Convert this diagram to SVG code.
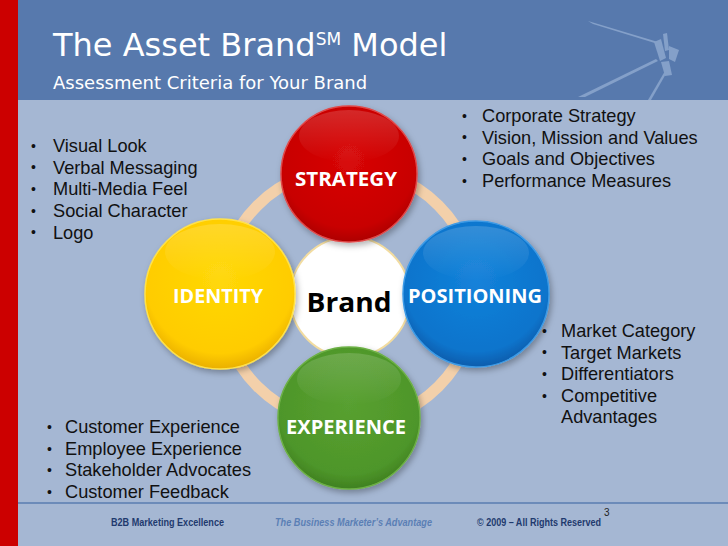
<svg xmlns="http://www.w3.org/2000/svg" width="728" height="546" viewBox="0 0 728 546">
<defs>
<style>
.bul{font-family:"Liberation Sans",Arial,sans-serif;font-size:18.2px;fill:#111}
.dot{font-family:"Liberation Sans",Arial,sans-serif;font-size:14px;fill:#111}
.lbl{font-family:"Open Sans","Noto Sans",sans-serif;font-weight:bold;font-size:19.5px;fill:#fff;text-anchor:middle}
.foot{font-family:"Liberation Sans",Arial,sans-serif;font-size:10px;font-weight:bold;fill:#1f3a6e}
</style>
<radialGradient id="gR" cx="50%" cy="40%" r="62%"><stop offset="0" stop-color="#d80808"/><stop offset="0.8" stop-color="#c80000"/><stop offset="1" stop-color="#a80000"/></radialGradient>
<radialGradient id="gY" cx="50%" cy="40%" r="62%"><stop offset="0" stop-color="#ffd808"/><stop offset="0.8" stop-color="#ffcc00"/><stop offset="1" stop-color="#e6aa00"/></radialGradient>
<radialGradient id="gB" cx="50%" cy="40%" r="62%"><stop offset="0" stop-color="#1482da"/><stop offset="0.8" stop-color="#0a74cc"/><stop offset="1" stop-color="#0858a6"/></radialGradient>
<radialGradient id="gG" cx="50%" cy="40%" r="62%"><stop offset="0" stop-color="#58a030"/><stop offset="0.8" stop-color="#4e962a"/><stop offset="1" stop-color="#3c7c1e"/></radialGradient>
<linearGradient id="gloss" x1="0" y1="0" x2="0" y2="1"><stop offset="0" stop-color="#fff" stop-opacity="0.16"/><stop offset="1" stop-color="#fff" stop-opacity="0"/></linearGradient>
<filter id="sh" x="-20%" y="-20%" width="140%" height="140%"><feDropShadow dx="2" dy="3" stdDeviation="3" flood-color="#000" flood-opacity="0.3"/></filter>
</defs>
<!-- background -->
<rect x="0" y="0" width="728" height="546" fill="#a5b7d3"/>
<rect x="0" y="0" width="728" height="100" fill="#5779ad"/>
<rect x="0" y="0" width="18" height="546" fill="#cc0000"/>
<line x1="18" y1="503" x2="728" y2="503" stroke="#5a7cb0" stroke-width="1.5"/>
<!-- windmill decoration -->
<g fill="#a9c0e0" opacity="0.55">
<polygon points="588,21 593,24 658,44 658,42"/>
<polygon points="578,97 585,97 658,61 656,59"/>
<polygon points="648,100 651,100 667,72 665,71"/>
<polygon points="654,42 661,39 666,58 660,61"/>
<polygon points="663,34 667,33 669,50 665,51"/>
<polygon points="669,46 679,50 675,62 669,59"/>
<polygon points="661,62 669,61 672,75 665,76"/>
</g>
<!-- title -->
<g id="title" fill="#fff" font-family="'DejaVu Sans',Verdana,sans-serif">
<text x="53" y="56" font-size="32">The Asset Brand<tspan font-size="17" dy="-11">SM</tspan><tspan font-size="32" dy="11"> Model</tspan></text>
<text x="53" y="89" font-size="18">Assessment Criteria for Your Brand</text>
</g>
<!-- connectors: ring -->
<g id="connectors">
<circle cx="348" cy="296" r="128" fill="none" stroke="#f3d0aa" stroke-width="11"/>
</g>
<!-- nodes -->
<g id="brand">
<circle cx="350" cy="297" r="60" fill="#fff" stroke="#f2dca0" stroke-width="2"/>
<text x="349" y="312" font-family="'Open Sans','Noto Sans',sans-serif" font-weight="bold" font-size="26" text-anchor="middle" fill="#000" textLength="85" lengthAdjust="spacingAndGlyphs">Brand</text>
</g>
<g id="strategy">
<circle cx="349" cy="174" r="68" fill="url(#gR)" stroke="#e04848" stroke-width="1.5" filter="url(#sh)"/>
<ellipse cx="349" cy="136" rx="50" ry="26" fill="url(#gloss)"/>
<text class="lbl" x="346" y="186" textLength="102" lengthAdjust="spacingAndGlyphs">STRATEGY</text>
</g>
<g id="identity">
<circle cx="220" cy="294" r="75" fill="url(#gY)" stroke="#ffe24a" stroke-width="1.5" filter="url(#sh)"/>
<ellipse cx="220" cy="252" rx="55" ry="28" fill="url(#gloss)"/>
<text class="lbl" x="218" y="303" textLength="90" lengthAdjust="spacingAndGlyphs">IDENTITY</text>
</g>
<g id="positioning">
<circle cx="476" cy="294" r="73" fill="url(#gB)" stroke="#3c9ae6" stroke-width="1.5" filter="url(#sh)"/>
<ellipse cx="476" cy="253" rx="53" ry="27" fill="url(#gloss)"/>
<text class="lbl" x="475" y="303" textLength="134" lengthAdjust="spacingAndGlyphs">POSITIONING</text>
</g>
<g id="experience">
<circle cx="349" cy="418" r="71" fill="url(#gG)" stroke="#6cb044" stroke-width="1.5" filter="url(#sh)"/>
<ellipse cx="349" cy="379" rx="52" ry="26" fill="url(#gloss)"/>
<text class="lbl" x="346" y="434" textLength="120" lengthAdjust="spacingAndGlyphs">EXPERIENCE</text>
</g>
<!-- bullet lists -->
<g id="list-identity">
<text class="dot" x="31" y="151">•</text><text class="bul" x="53" y="152">Visual Look</text>
<text class="dot" x="31" y="172">•</text><text class="bul" x="53" y="173.5">Verbal Messaging</text>
<text class="dot" x="31" y="194">•</text><text class="bul" x="53" y="195">Multi-Media Feel</text>
<text class="dot" x="31" y="216">•</text><text class="bul" x="53" y="217">Social Character</text>
<text class="dot" x="31" y="237">•</text><text class="bul" x="53" y="238.5">Logo</text>
</g>
<g id="list-strategy">
<text class="dot" x="462" y="121">•</text><text class="bul" x="482" y="122">Corporate Strategy</text>
<text class="dot" x="462" y="142">•</text><text class="bul" x="482" y="143.5">Vision, Mission and Values</text>
<text class="dot" x="462" y="164">•</text><text class="bul" x="482" y="165">Goals and Objectives</text>
<text class="dot" x="462" y="186">•</text><text class="bul" x="482" y="186.5">Performance Measures</text>
</g>
<g id="list-positioning">
<text class="dot" x="542" y="336">•</text><text class="bul" x="561" y="337">Market Category</text>
<text class="dot" x="542" y="357">•</text><text class="bul" x="561" y="358.5">Target Markets</text>
<text class="dot" x="542" y="379">•</text><text class="bul" x="561" y="380">Differentiators</text>
<text class="dot" x="542" y="401">•</text><text class="bul" x="561" y="401.5">Competitive</text>
<text class="bul" x="561" y="423">Advantages</text>
</g>
<g id="list-experience">
<text class="dot" x="47" y="432">•</text><text class="bul" x="65" y="433">Customer Experience</text>
<text class="dot" x="47" y="454">•</text><text class="bul" x="65" y="454.5">Employee Experience</text>
<text class="dot" x="47" y="475">•</text><text class="bul" x="65" y="476">Stakeholder Advocates</text>
<text class="dot" x="47" y="497">•</text><text class="bul" x="65" y="497.5">Customer Feedback</text>
</g>
<!-- footer -->
<g id="footer">
<text class="foot" x="111" y="526" textLength="113" lengthAdjust="spacingAndGlyphs">B2B Marketing Excellence</text>
<text class="foot" x="275" y="526" font-style="italic" style="fill:#5b7fb5" textLength="157" lengthAdjust="spacingAndGlyphs">The Business Marketer’s Advantage</text>
<text class="foot" x="477" y="526" textLength="124" lengthAdjust="spacingAndGlyphs">© 2009 – All Rights Reserved</text>
<text x="604" y="516" font-family="'Liberation Sans',Arial,sans-serif" font-size="10" fill="#222">3</text>
</g>
</svg>
